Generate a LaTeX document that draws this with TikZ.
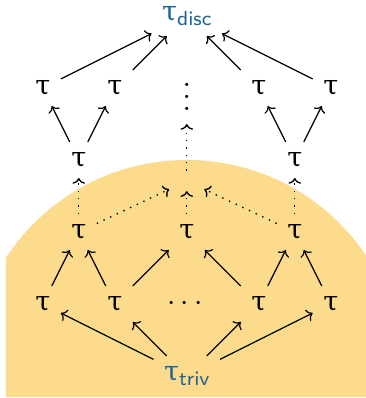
\documentclass[tikz,border=0pt]{standalone}
\usepackage{fontspec}
\usetikzlibrary{arrows.meta}
\newfontfamily\taufont{DejaVu Serif}
\definecolor{blobfill}{RGB}{253,219,141}
\definecolor{endblue}{RGB}{30,98,146}
\newcommand{\tu}{{\fontsize{9}{10}\taufont τ}}
\newcommand{\sbx}[1]{\raisebox{-1.6pt}{\fontsize{6.8}{7}\sffamily #1}}
\begin{document}
\begin{tikzpicture}[x=12pt,y=-12pt,
  >={Computer Modern Rightarrow[length=1.9pt,width=4.2pt]},
  tn/.style={inner sep=3.33pt},
  endn/.style={inner sep=3.33pt,text=endblue},
  arr/.style={->,line width=0.4pt},
  darr/.style={->,dotted,line width=0.45pt}]
\useasboundingbox (-5.1875,-0.444) rectangle (4.951,10.611);
\begin{scope}
  \clip (-5.021,-1) rectangle (6,10.583);
  \fill[blobfill] (0,10) circle[radius=72pt];
\end{scope}
% nodes
\node[endn] (disc) at (0,0) {\tu\sbx{disc}};
\node[tn] (a1) at (-4,2) {\tu};
\node[tn] (a2) at (-2,2) {\tu};
\node[tn,inner ysep=4.3pt] (vd) at (0,2) {$\vdots$};
\node[tn] (a3) at (2,2) {\tu};
\node[tn] (a4) at (4,2) {\tu};
\node[tn] (b1) at (-3,4) {\tu};
\node[tn] (b2) at (3,4) {\tu};
\node[inner sep=0pt,minimum width=11.3pt,minimum height=6.4pt] (hub) at (0,4.583) {};
\node[tn] (c1) at (-3,6) {\tu};
\node[tn] (c2) at (0,6) {\tu};
\node[tn] (c3) at (3,6) {\tu};
\node[tn] (d1) at (-4,8) {\tu};
\node[tn] (d2) at (-2,8) {\tu};
\node[tn] (dd) at (-0.05,8) {$\cdots$};
\node[tn] (d3) at (2,8) {\tu};
\node[tn] (d4) at (4,8) {\tu};
\node[endn] (triv) at (0,10) {\tu\sbx{triv}};
% edges
\foreach \s in {a1,a2,a3,a4} \draw[arr] (\s) -- (disc);
\draw[arr] (b1) -- (a1);
\draw[arr] (b1) -- (a2);
\draw[arr] (b2) -- (a3);
\draw[arr] (b2) -- (a4);
\draw[darr] (c1) -- (b1);
\draw[darr] (c3) -- (b2);
\draw[darr] (c1) -- (hub);
\draw[darr] (c2) -- (hub);
\draw[darr] (c3) -- (hub);
\draw[darr] (hub) -- (vd);
\draw[arr] (d1) -- (c1);
\draw[arr] (d2) -- (c1);
\draw[arr] (d2) -- (c2);
\draw[arr] (d3) -- (c2);
\draw[arr] (d3) -- (c3);
\draw[arr] (d4) -- (c3);
\foreach \t in {d1,d2,d3,d4} \draw[arr] (triv) -- (\t);
\end{tikzpicture}
\end{document}
